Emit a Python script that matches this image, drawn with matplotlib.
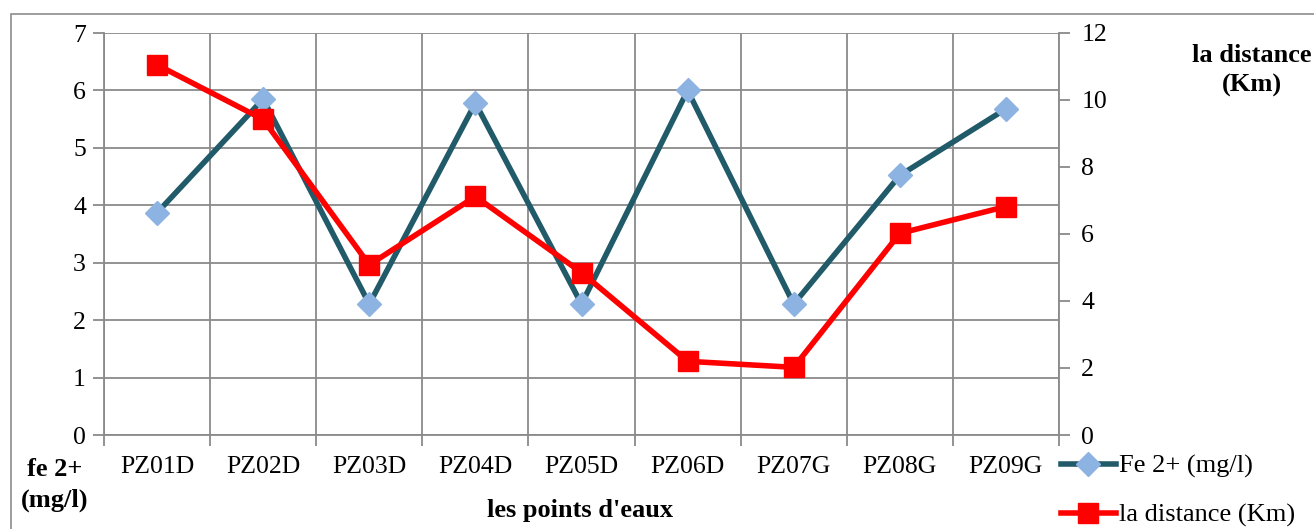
import matplotlib
matplotlib.use("Agg")
import matplotlib.pyplot as plt
from matplotlib.patches import Rectangle
from matplotlib.lines import Line2D

categories = ["PZ01D", "PZ02D", "PZ03D", "PZ04D", "PZ05D", "PZ06D", "PZ07G", "PZ08G", "PZ09G"]
fe_values = [3.87, 5.85, 2.28, 5.78, 2.28, 6.0, 2.28, 4.52, 5.68]
distance_values = [11.05, 9.42, 5.08, 7.12, 4.85, 2.2, 2.02, 6.02, 6.82]
left_ticks = [0, 1, 2, 3, 4, 5, 6, 7]
right_ticks = [0, 2, 4, 6, 8, 10, 12]

plt.rcParams['font.family'] = ['Liberation Serif', 'DejaVu Serif']

W, H = 1314, 529
fig = plt.figure(figsize=(W / 100, H / 100), dpi=100)

# outer chart frame
fig.patches.append(Rectangle((11 / W, -0.1), 1.2, 1.1 - 14 / H, transform=fig.transFigure,
                             fill=False, edgecolor="#8c8c8c", linewidth=1.2))

ax = fig.add_axes([104 / W, 1 - 435 / H, (1059 - 104) / W, (435 - 33) / H])
ax2 = ax.twinx()

grid_c = "#8a8a8a"
x = list(range(len(categories)))
ax.set_xlim(-0.5, len(categories) - 0.5)
ax.set_ylim(0, 7)
ax.set_yticks(left_ticks)
ax2.set_ylim(0, 12)
ax2.set_yticks(right_ticks)

ax.set_xticks(x)
ax.set_xticklabels(categories, fontsize=18.5)
ax.set_xticks([i - 0.5 for i in range(len(categories) + 1)], minor=True)
ax.tick_params(axis='x', which='major', length=0, pad=15)
ax.tick_params(axis='x', which='minor', length=8, color=grid_c, width=1.3)
ax.tick_params(axis='y', length=8, color=grid_c, width=1.3, labelsize=18.5, pad=5)
ax2.tick_params(axis='y', length=8, color=grid_c, width=1.3, labelsize=18.5, pad=8)

ax.grid(True, axis='y', which='major', color=grid_c, linewidth=1.3)
ax.grid(True, axis='x', which='minor', color=grid_c, linewidth=1.3)
ax.grid(False, axis='x', which='major')
ax.set_axisbelow(True)

for a in (ax, ax2):
    a.spines['top'].set_visible(False)
    for s in ('left', 'right', 'bottom'):
        a.spines[s].set_color(grid_c)
        a.spines[s].set_linewidth(1.3)
ax.spines['right'].set_visible(False)
ax2.spines['left'].set_visible(False)
ax2.spines['bottom'].set_visible(False)

teal = "#215A68"
light = "#8DB3E2"
red = "#FF0000"
lw = 4.0
ax.plot(x, fe_values, color=teal, linewidth=lw, marker='D', markersize=12,
        markerfacecolor=light, markeredgecolor=light, zorder=3)
ax2.plot(x, distance_values, color=red, linewidth=lw, marker='s', markersize=14,
         markerfacecolor=red, markeredgecolor=red, zorder=3)

bfs = 19
fig.text(55 / W, 1 - 469 / H, "fe 2+", ha='center', va='center', fontsize=bfs, fontweight='bold')
fig.text(55 / W, 1 - 500 / H, "(mg/l)", ha='center', va='center', fontsize=bfs, fontweight='bold')
fig.text(1252 / W, 1 - 55 / H, "la distance", ha='center', va='center', fontsize=bfs, fontweight='bold')
fig.text(1252 / W, 1 - 85 / H, "(Km)", ha='center', va='center', fontsize=bfs, fontweight='bold')
fig.text(580 / W, 1 - 511 / H, "les points d'eaux", ha='center', va='center', fontsize=bfs, fontweight='bold')

handles = [Line2D([], [], color=teal, linewidth=lw, marker='D', markersize=12,
                  markerfacecolor=light, markeredgecolor=light),
           Line2D([], [], color=red, linewidth=lw, marker='s', markersize=14,
                  markerfacecolor=red, markeredgecolor=red)]
fig.legend(handles, ["Fe 2+ (mg/l)", "la distance (Km)"], loc='upper left',
           bbox_to_anchor=(1050 / W, 1 - 444 / H), frameon=False, fontsize=19,
           handlelength=2.1, handletextpad=0.1, labelspacing=0.95, borderaxespad=0)

fig.savefig("out.png", dpi=100)
